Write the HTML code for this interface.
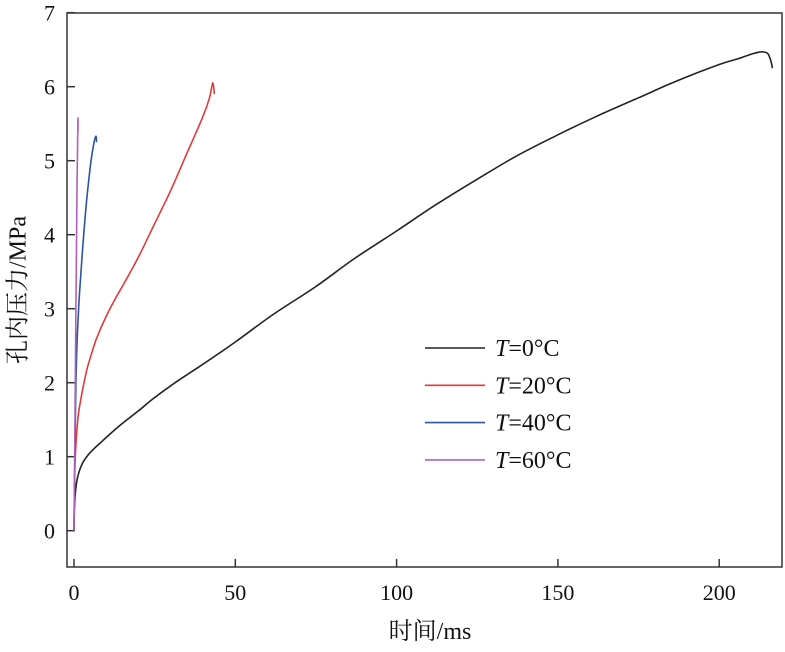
<!DOCTYPE html>
<html><head><meta charset="utf-8"><style>
body{margin:0;background:#fff}
svg text{font-family:"Liberation Serif","Noto Serif CJK SC",serif;fill:#111}
</style></head><body>
<svg width="785" height="647" id="c">
<rect x="67" y="13" width="715" height="554" fill="none" stroke="#333" stroke-width="1.5"/>
<g id="axes"></g><g id="series"></g>
<text x="20" y="290" font-size="24" transform="rotate(-90 20 290)" text-anchor="middle" dominant-baseline="middle">孔内压力/MPa</text>
<text x="430" y="639" font-size="24" text-anchor="middle">时间/ms</text>
<g id="legend"></g>
</svg>
<script>
const xTicks=[0,50,100,150,200];
const yTicks=[0,1,2,3,4,5,6,7];
const names=["T=0°C","T=20°C","T=40°C","T=60°C"];
const colors=["#222","#e03a3a","#2a55a0","#b060b8"];
const t0=[0,0.1,0.3,0.7,1.2,2,3,4.5,6,8,11,15,20,25,32,40,50,62,75,87,100,112,125,137,150,162,175,187,200,206,210,213,215,216,216.5];
const p0=[0,0.25,0.45,0.62,0.74,0.85,0.94,1.03,1.1,1.18,1.3,1.45,1.62,1.8,2.02,2.25,2.55,2.93,3.3,3.68,4.05,4.4,4.75,5.06,5.35,5.6,5.85,6.08,6.3,6.38,6.44,6.47,6.45,6.35,6.25];
const t20=[0,0.15,0.4,0.8,1.3,2,3,4,5.5,7,10,13,16,20,25,30,35,40,42,43,43.5];
const p20=[0,0.6,1.0,1.3,1.55,1.75,1.98,2.18,2.4,2.6,2.9,3.15,3.38,3.7,4.15,4.6,5.1,5.6,5.85,6.05,5.9];
const t40=[0,0.15,0.3,0.6,1,1.5,2,3,4,5,6,6.8,7];
const p40=[0,0.6,1.1,2,2.6,3.05,3.4,4,4.5,4.9,5.2,5.33,5.25];
const t60=[0,0.3,0.6,0.9,1.2,1.25];
const p60=[0,1.5,3,4.5,5.53,5.4];
const X=v=>74+v*3.226, Y=v=>530.7-v*74;
const NS="http://www.w3.org/2000/svg";
function mk(tag,attrs,parent,txt){const e=document.createElementNS(NS,tag);for(const k in attrs)e.setAttribute(k,attrs[k]);if(txt!==undefined)e.textContent=txt;parent.appendChild(e);return e;}
function smooth(pts){let d='M'+pts[0][0].toFixed(1)+','+pts[0][1].toFixed(1);
 for(let i=0;i<pts.length-1;i++){const p0=pts[i-1]||pts[i],p1=pts[i],p2=pts[i+1],p3=pts[i+2]||p2;
  const c1=[p1[0]+(p2[0]-p0[0])/6,p1[1]+(p2[1]-p0[1])/6],c2=[p2[0]-(p3[0]-p1[0])/6,p2[1]-(p3[1]-p1[1])/6];
  d+='C'+c1.map(v=>v.toFixed(1)).join(',')+' '+c2.map(v=>v.toFixed(1)).join(',')+' '+p2[0].toFixed(1)+','+p2[1].toFixed(1);}
 return d;}
const ax=document.getElementById('axes');
xTicks.forEach(v=>{
 const l=mk('line',{x1:X(v),x2:X(v),y1:567,y2:559,stroke:'#333','stroke-width':1.5},ax);
 
 
 const t=mk('text',{x:X(v),y:600,'font-size':22,'text-anchor':'middle'},ax,v);
 
 
});
yTicks.forEach(v=>{
 const l=mk('line',{x1:67,x2:75,y1:Y(v),y2:Y(v),stroke:'#333','stroke-width':1.5},ax);
 
 
 const t=mk('text',{x:55,y:Y(v)+8,'font-size':22,'text-anchor':'end'},ax,v);
 
 
});
const se=document.getElementById('series');
[[t0,p0],[t20,p20],[t40,p40],[t60,p60]].forEach((s,i)=>{
 const pts=s[0].map((t,j)=>[X(t),Y(s[1][j])]);
 const p=mk('path',{d:smooth(pts),fill:'none',stroke:colors[i],'stroke-width':1.6,'stroke-linejoin':'round'},se);
 
 
});
const lg=document.getElementById('legend');
names.forEach((n,i)=>{
 const y=348+i*37.3;
 const l=mk('line',{x1:425,x2:485,y1:y,y2:y,stroke:colors[i],'stroke-width':1.6},lg);
 
 
 const t=mk('text',{x:495,y:y+8,'font-size':24},lg);
 
 
 mk('tspan',{'font-style':'italic'},t,'T');
 mk('tspan',{},t,n.slice(1));
});
</script>
</body></html>
